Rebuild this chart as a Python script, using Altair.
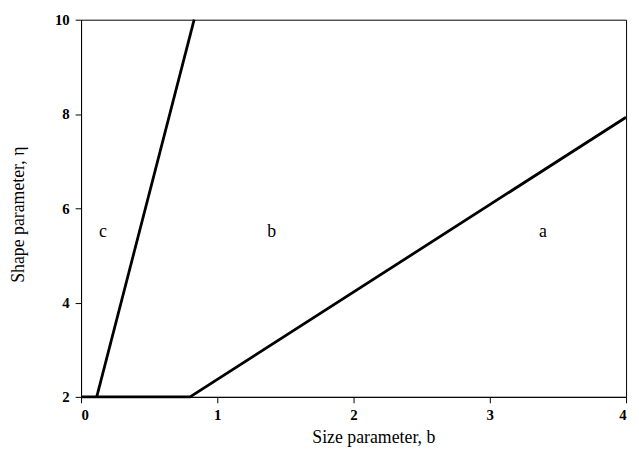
import altair as alt
import pandas as pd

# Boundary lines
line1_b = [0.0, 0.8, 4.0]
line1_eta = [2.0, 2.0, 7.93]
line2_b = [0.115, 0.83]
line2_eta = [2.0, 10.0]

# Region labels
region_text = ["c", "b", "a"]
region_b = [0.16, 1.40, 3.39]
region_eta = [5.5, 5.5, 5.5]

x_ticks = [0, 1, 2, 3, 4]
y_ticks = [2, 4, 6, 8, 10]

lines = pd.DataFrame({
    "b": line1_b + line2_b,
    "eta": line1_eta + line2_eta,
    "series": ["1"] * len(line1_b) + ["2"] * len(line2_b),
    "order": list(range(len(line1_b))) + list(range(len(line2_b))),
})
labels = pd.DataFrame({"b": region_b, "eta": region_eta, "t": region_text})

x_scale = alt.Scale(domain=[0, 4], nice=False, zero=False)
y_scale = alt.Scale(domain=[2, 10], nice=False, zero=False)

x_axis = alt.Axis(
    title="Size parameter, b", values=x_ticks, format="d", grid=False,
    labelFont="Liberation Serif", labelFontWeight="bold", labelFontSize=15, labelColor="black",
    titleFont="Liberation Serif", titleFontWeight="normal", titleFontSize=18, titleColor="black",
    domainColor="black", tickColor="black", tickSize=6, labelPadding=5, titlePadding=6,
    titleX=296, titleAnchor="start", titleAlign="center",
)
y_axis = alt.Axis(
    title="Shape parameter, η", values=y_ticks, format="d", grid=False,
    labelFont="Liberation Serif", labelFontWeight="bold", labelFontSize=15, labelColor="black",
    titleFont="Liberation Serif", titleFontWeight="normal", titleFontSize=18, titleColor="black",
    domainColor="black", tickColor="black", tickSize=6, labelPadding=6, titlePadding=27,
    titleY=197, titleAnchor="start", titleAlign="center",
)

line_chart = alt.Chart(lines).mark_line(color="black", strokeWidth=2.8).encode(
    x=alt.X("b:Q", scale=x_scale, axis=x_axis),
    y=alt.Y("eta:Q", scale=y_scale, axis=y_axis),
    detail="series:N",
    order="order:Q",
)

text_chart = alt.Chart(labels).mark_text(
    font="Liberation Serif", fontSize=18, color="black", align="center", baseline="middle"
).encode(
    x=alt.X("b:Q", scale=x_scale),
    y=alt.Y("eta:Q", scale=y_scale),
    text="t:N",
)

chart = alt.layer(line_chart, text_chart).properties(
    width=552, height=382,
    autosize=alt.AutoSizeParams(type="none"),
    padding={"left": 74, "top": 9, "right": 5, "bottom": 52},
    background="white",
).configure_view(stroke="black", strokeWidth=1)

chart.save("out.html", embed_options={"renderer": "svg", "actions": False})
